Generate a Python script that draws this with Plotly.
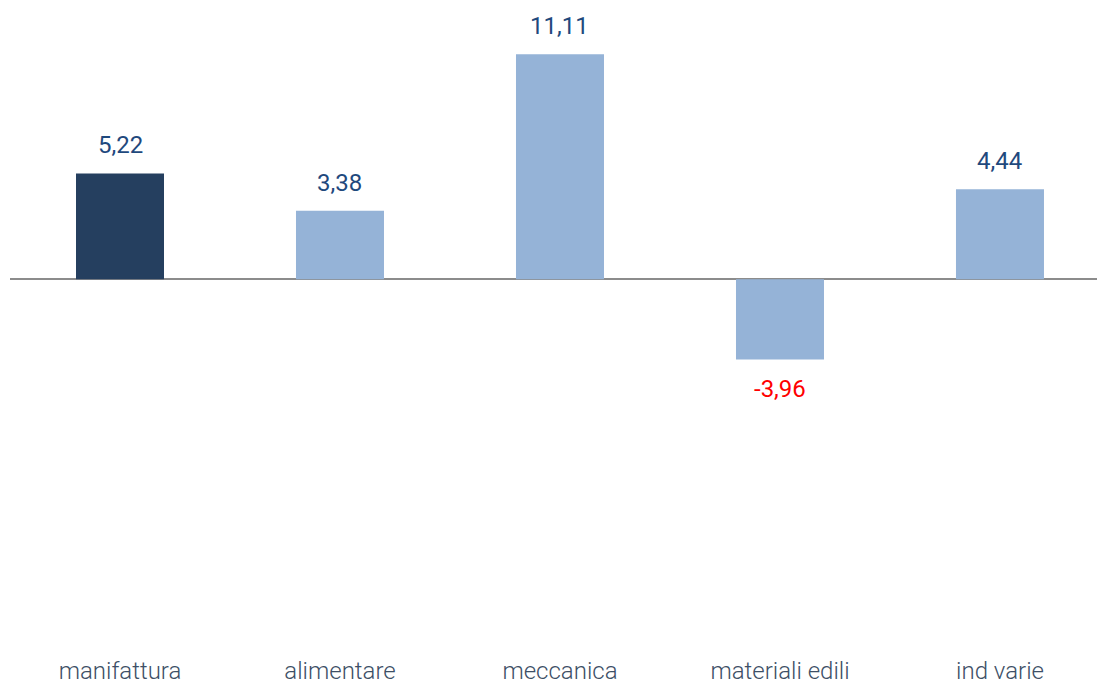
import plotly.graph_objects as go

# Variazione percentuale per settore
categorie = ["manifattura", "alimentare", "meccanica", "materiali edili", "ind varie"]
valori = [5.22, 3.38, 11.11, -3.96, 4.44]

colore_barre = ["#253F5F", "#95B3D7", "#95B3D7", "#95B3D7", "#95B3D7"]
colore_etichette = ["#1F497D" if v >= 0 else "#FF0000" for v in valori]

fig = go.Figure(
    go.Bar(
        x=categorie,
        y=valori,
        width=0.4,
        marker=dict(color=colore_barre, line=dict(width=0)),
        hoverinfo="x+y",
    )
)

# Etichette dei valori sopra/sotto le barre, con virgola decimale
for cat, v, col in zip(categorie, valori, colore_etichette):
    fig.add_annotation(
        x=cat,
        y=v,
        text=f"{v:.2f}".replace(".", ","),
        showarrow=False,
        yanchor="bottom" if v >= 0 else "top",
        yshift=12 if v >= 0 else -14,
        font=dict(family="Roboto", size=24, color=col),
    )

fig.update_layout(
    width=1097,
    height=686,
    margin=dict(l=10, r=0, t=26, b=32),
    paper_bgcolor="white",
    plot_bgcolor="white",
    showlegend=False,
    font=dict(family="Roboto", color="#3D4F66"),
    xaxis=dict(
        range=[-0.5, 4.441],
        automargin=False,
        showgrid=False,
        showline=False,
        ticks="",
        tickfont=dict(family="Roboto", size=24, color="#3D4F66", weight=300),
        ticklabelstandoff=0,
    ),
    yaxis=dict(
        range=[-18.5, 12.5],
        automargin=False,
        showgrid=False,
        showticklabels=False,
        zeroline=True,
        zerolinecolor="#8C8C8C",
        zerolinewidth=2,
    ),
)

fig.write_html("out.html")
